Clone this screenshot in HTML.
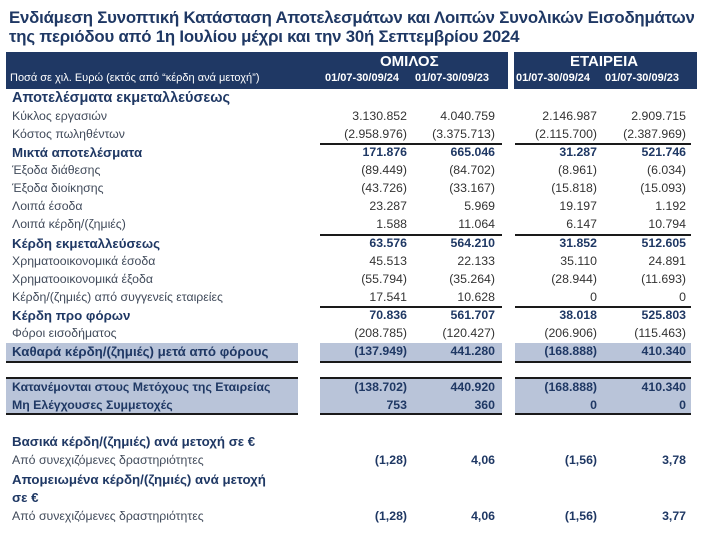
<!DOCTYPE html>
<html><head><meta charset="utf-8"><style>
body{margin:0;width:702px;height:549px;background:#fff;position:relative;overflow:hidden;font-family:"Liberation Sans",sans-serif;}
.a{position:absolute;white-space:nowrap;}
.t{color:#1f3864;font-weight:bold;font-size:16.8px;left:9px;letter-spacing:-0.2px}
.hb{position:absolute;background:#1f3864;}
.l{left:12px;font-size:12.3px;color:#404a5a;}
.lb{left:12px;font-size:13.3px;color:#1f3864;font-weight:bold;}
.n{font-size:12.3px;color:#333;text-align:right;width:100px;}
.nb{font-weight:bold;color:#1f3864;}
.c1{left:307px}.c2{left:395px}.c3{left:497px}.c4{left:586px}
.sh{position:absolute;background:#b9c4d9;}
.ln{position:absolute;background:#1a1a1a;height:2px;}
</style></head><body>
<div class="a t" style="top:8px">Ενδιάμεση Συνοπτική Κατάσταση Αποτελεσμάτων και Λοιπών Συνολικών Εισοδημάτων</div>
<div class="a t" style="top:27px">της περιόδου από 1η Ιουλίου μέχρι και την 30ή Σεπτεμβρίου 2024</div>
<div class="hb" style="left:6px;top:52px;width:502px;height:37px"></div>
<div class="hb" style="left:514px;top:52px;width:183px;height:37px"></div>
<div class="a" style="left:380px;top:53px;color:#fff;font-weight:bold;font-size:15px">ΟΜΙΛΟΣ</div>
<div class="a" style="left:570px;top:53px;color:#fff;font-weight:bold;font-size:15px">ΕΤΑΙΡΕΙΑ</div>
<div class="a" style="left:10px;top:72px;color:#fff;font-size:11px">Ποσά σε χιλ. Ευρώ (εκτός από “κέρδη ανά μετοχή”)</div>
<div class="a" style="left:325px;top:72px;color:#fff;font-size:11px;font-weight:bold">01/07-30/09/24</div>
<div class="a" style="left:415px;top:72px;color:#fff;font-size:11px;font-weight:bold">01/07-30/09/23</div>
<div class="a" style="left:516px;top:72px;color:#fff;font-size:11px;font-weight:bold">01/07-30/09/24</div>
<div class="a" style="left:605px;top:72px;color:#fff;font-size:11px;font-weight:bold">01/07-30/09/23</div>

<div class="sh" style="left:6px;top:343px;width:292px;height:19px"></div>
<div class="sh" style="left:320px;top:343px;width:182px;height:19px"></div>
<div class="sh" style="left:515px;top:343px;width:176px;height:19px"></div>
<div class="sh" style="left:6px;top:378px;width:292px;height:36px"></div>
<div class="sh" style="left:320px;top:378px;width:182px;height:36px"></div>
<div class="sh" style="left:515px;top:378px;width:176px;height:36px"></div>

<div class="ln" style="left:320px;top:143px;width:182px"></div><div class="ln" style="left:515px;top:143px;width:176px"></div>
<div class="ln" style="left:320px;top:234px;width:182px"></div><div class="ln" style="left:515px;top:234px;width:176px"></div>
<div class="ln" style="left:320px;top:306px;width:182px"></div><div class="ln" style="left:515px;top:306px;width:176px"></div>
<div class="ln" style="left:6px;top:361px;width:292px"></div><div class="ln" style="left:320px;top:361px;width:182px"></div><div class="ln" style="left:515px;top:361px;width:176px"></div>
<div class="ln" style="left:6px;top:377px;width:292px"></div><div class="ln" style="left:320px;top:377px;width:182px"></div><div class="ln" style="left:515px;top:377px;width:176px"></div>
<div class="ln" style="left:6px;top:413px;width:292px"></div><div class="ln" style="left:320px;top:413px;width:182px"></div><div class="ln" style="left:515px;top:413px;width:176px"></div>

<div class="a lb" style="top:90px;font-size:14.5px">Αποτελέσματα εκμεταλλεύσεως</div>

<div class="a l" style="top:109px">Κύκλος εργασιών</div><div class="a n c1" style="top:109px">3.130.852</div><div class="a n c2" style="top:109px">4.040.759</div><div class="a n c3" style="top:109px">2.146.987</div><div class="a n c4" style="top:109px">2.909.715</div>
<div class="a l" style="top:127px">Κόστος πωληθέντων</div><div class="a n c1" style="top:127px">(2.958.976)</div><div class="a n c2" style="top:127px">(3.375.713)</div><div class="a n c3" style="top:127px">(2.115.700)</div><div class="a n c4" style="top:127px">(2.387.969)</div>
<div class="a lb" style="top:145px">Μικτά αποτελέσματα</div><div class="a n nb c1" style="top:145px">171.876</div><div class="a n nb c2" style="top:145px">665.046</div><div class="a n nb c3" style="top:145px">31.287</div><div class="a n nb c4" style="top:145px">521.746</div>
<div class="a l" style="top:163px">Έξοδα διάθεσης</div><div class="a n c1" style="top:163px">(89.449)</div><div class="a n c2" style="top:163px">(84.702)</div><div class="a n c3" style="top:163px">(8.961)</div><div class="a n c4" style="top:163px">(6.034)</div>
<div class="a l" style="top:181px">Έξοδα διοίκησης</div><div class="a n c1" style="top:181px">(43.726)</div><div class="a n c2" style="top:181px">(33.167)</div><div class="a n c3" style="top:181px">(15.818)</div><div class="a n c4" style="top:181px">(15.093)</div>
<div class="a l" style="top:199px">Λοιπά έσοδα</div><div class="a n c1" style="top:199px">23.287</div><div class="a n c2" style="top:199px">5.969</div><div class="a n c3" style="top:199px">19.197</div><div class="a n c4" style="top:199px">1.192</div>
<div class="a l" style="top:217px">Λοιπά κέρδη/(ζημιές)</div><div class="a n c1" style="top:217px">1.588</div><div class="a n c2" style="top:217px">11.064</div><div class="a n c3" style="top:217px">6.147</div><div class="a n c4" style="top:217px">10.794</div>
<div class="a lb" style="top:236px">Κέρδη εκμεταλλεύσεως</div><div class="a n nb c1" style="top:236px">63.576</div><div class="a n nb c2" style="top:236px">564.210</div><div class="a n nb c3" style="top:236px">31.852</div><div class="a n nb c4" style="top:236px">512.605</div>
<div class="a l" style="top:254px">Χρηματοοικονομικά έσοδα</div><div class="a n c1" style="top:254px">45.513</div><div class="a n c2" style="top:254px">22.133</div><div class="a n c3" style="top:254px">35.110</div><div class="a n c4" style="top:254px">24.891</div>
<div class="a l" style="top:272px">Χρηματοοικονομικά έξοδα</div><div class="a n c1" style="top:272px">(55.794)</div><div class="a n c2" style="top:272px">(35.264)</div><div class="a n c3" style="top:272px">(28.944)</div><div class="a n c4" style="top:272px">(11.693)</div>
<div class="a l" style="top:290px">Κέρδη/(ζημιές) από συγγενείς εταιρείες</div><div class="a n c1" style="top:290px">17.541</div><div class="a n c2" style="top:290px">10.628</div><div class="a n c3" style="top:290px">0</div><div class="a n c4" style="top:290px">0</div>
<div class="a lb" style="top:308px">Κέρδη προ φόρων</div><div class="a n nb c1" style="top:308px">70.836</div><div class="a n nb c2" style="top:308px">561.707</div><div class="a n nb c3" style="top:308px">38.018</div><div class="a n nb c4" style="top:308px">525.803</div>
<div class="a l" style="top:326px">Φόροι εισοδήματος</div><div class="a n c1" style="top:326px">(208.785)</div><div class="a n c2" style="top:326px">(120.427)</div><div class="a n c3" style="top:326px">(206.906)</div><div class="a n c4" style="top:326px">(115.463)</div>
<div class="a lb" style="top:344px">Καθαρά κέρδη/(ζημιές) μετά από φόρους</div><div class="a n nb c1" style="top:344px">(137.949)</div><div class="a n nb c2" style="top:344px">441.280</div><div class="a n nb c3" style="top:344px">(168.888)</div><div class="a n nb c4" style="top:344px">410.340</div>
<div class="a lb" style="top:380px;font-size:12.3px">Κατανέμονται στους Μετόχους της Εταιρείας</div><div class="a n nb c1" style="top:380px">(138.702)</div><div class="a n nb c2" style="top:380px">440.920</div><div class="a n nb c3" style="top:380px">(168.888)</div><div class="a n nb c4" style="top:380px">410.340</div>
<div class="a lb" style="top:398px;font-size:12.3px">Μη Ελέγχουσες Συμμετοχές</div><div class="a n nb c1" style="top:398px">753</div><div class="a n nb c2" style="top:398px">360</div><div class="a n nb c3" style="top:398px">0</div><div class="a n nb c4" style="top:398px">0</div>
<div class="a lb" style="top:434px">Βασικά κέρδη/(ζημιές) ανά μετοχή σε €</div>
<div class="a l" style="top:453px">Από συνεχιζόμενες δραστηριότητες</div><div class="a n nb c1" style="top:453px">(1,28)</div><div class="a n nb c2" style="top:453px">4,06</div><div class="a n nb c3" style="top:453px">(1,56)</div><div class="a n nb c4" style="top:453px">3,78</div>
<div class="a lb" style="top:472px">Απομειωμένα κέρδη/(ζημιές) ανά μετοχή</div>
<div class="a lb" style="top:490px">σε €</div>
<div class="a l" style="top:509px">Από συνεχιζόμενες δραστηριότητες</div><div class="a n nb c1" style="top:509px">(1,28)</div><div class="a n nb c2" style="top:509px">4,06</div><div class="a n nb c3" style="top:509px">(1,56)</div><div class="a n nb c4" style="top:509px">3,77</div>
</body></html>
